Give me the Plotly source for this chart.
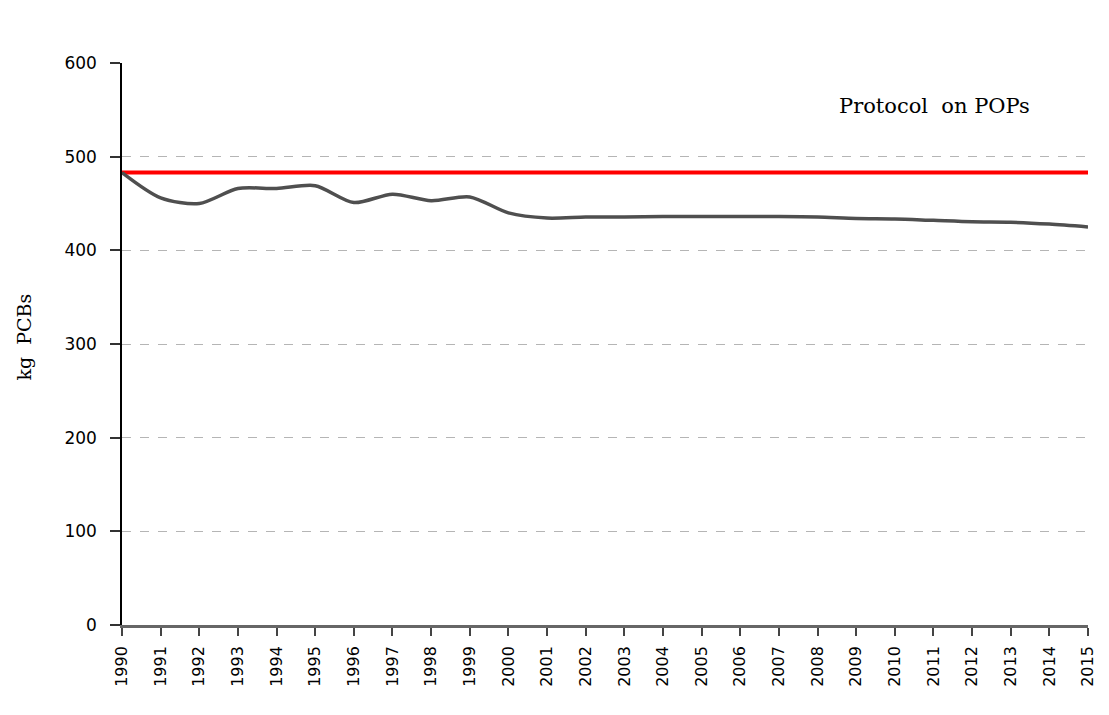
import plotly.graph_objects as go

years = list(range(1990, 2016))
pcb_emissions = [483, 456, 450, 466, 466, 469, 451, 460, 453, 457, 440, 434.5,
                 435.5, 435.5, 436, 436, 436, 436, 435.5, 434, 433.5, 432, 430.5, 430, 428, 425]
protocol_level = [483] * len(years)
tick_labels = [str(y) for y in years]

fig = go.Figure()
fig.add_trace(go.Scatter(x=years, y=protocol_level, mode="lines",
                         line=dict(color="#ff0000", width=4), showlegend=False, hoverinfo="skip"))
fig.add_trace(go.Scatter(x=years, y=pcb_emissions, mode="lines",
                         line=dict(color="#4f4f4f", width=3.5, shape="spline", smoothing=0.8),
                         showlegend=False))

fig.update_layout(
    width=1109, height=715,
    margin=dict(l=114, r=29, t=55, b=98),
    paper_bgcolor="white", plot_bgcolor="white",
    font=dict(family="DejaVu Sans, sans-serif", size=16, color="black"),
    annotations=[
        dict(text="Protocol  on POPs", x=0.841, xref="paper", xanchor="center",
             y=554, yref="y", yanchor="middle", showarrow=False,
             font=dict(family="DejaVu Serif, serif", size=21, color="black")),
        dict(text="kg  PCBs", textangle=-90, x=-0.1014, xref="paper", xanchor="center",
             y=307, yref="y", yanchor="middle", showarrow=False,
             font=dict(family="DejaVu Serif, serif", size=19, color="black")),
    ],
)
fig.update_xaxes(range=[1990, 2015], tickvals=years, ticktext=tick_labels, tickangle=-90,
                 showgrid=False, showline=True, linecolor="#666666", linewidth=2.5,
                 ticks="outside", ticklen=8, tickwidth=2, tickcolor="#444444",
                 ticklabelstandoff=4,
                 tickfont=dict(family="DejaVu Sans, sans-serif", size=16, color="black"),
                 zeroline=False)
fig.update_yaxes(range=[0, 600], dtick=100, showgrid=True, gridcolor="#b5b5b5", griddash="dash",
                 gridwidth=1, showline=True, linecolor="black", linewidth=1.5,
                 ticks="outside", ticklen=10, tickwidth=1.5, tickcolor="#333333", zeroline=False,
                 ticklabelstandoff=10,
                 tickfont=dict(family="DejaVu Sans, sans-serif", size=17, color="black"))

fig.write_html("out.html")
